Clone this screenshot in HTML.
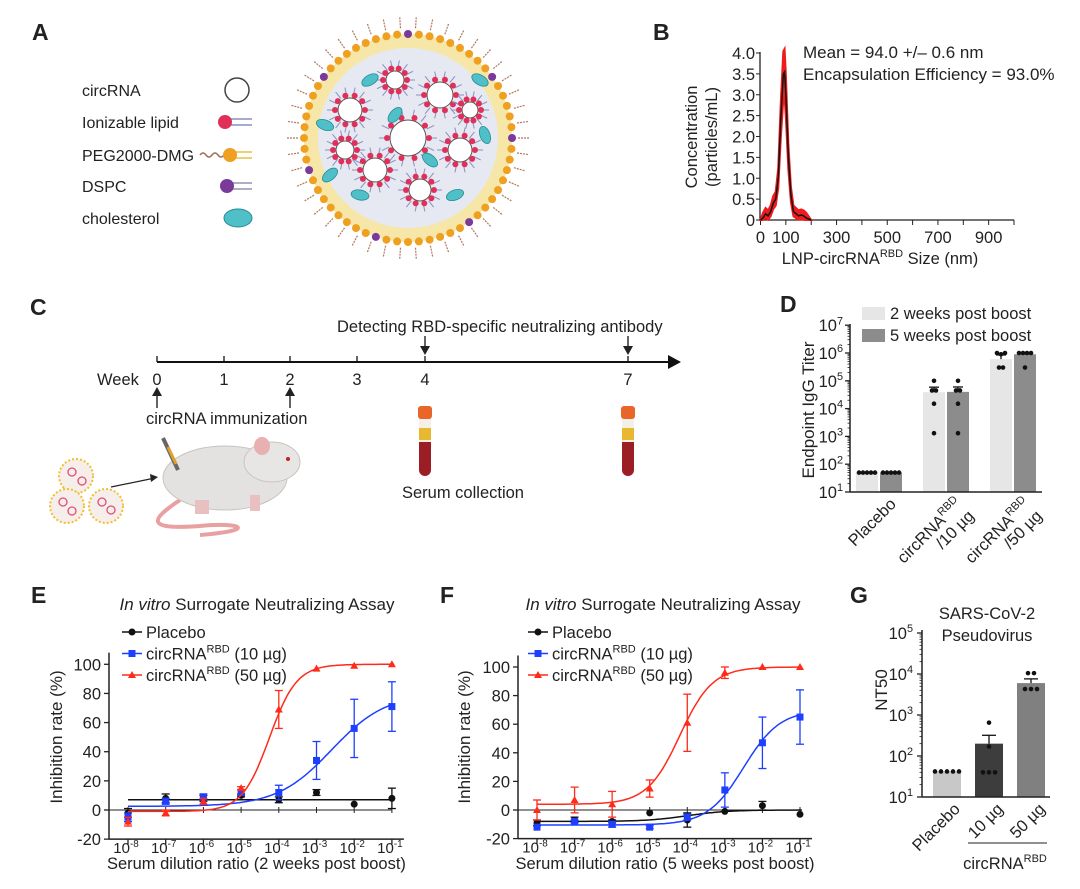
<!DOCTYPE html>
<html><head><meta charset="utf-8"><style>
html,body{margin:0;padding:0;background:#fff;}
svg{display:block;font-family:"Liberation Sans",Arial,sans-serif;}
</style></head><body>
<svg id="fig" width="1080" height="889" viewBox="0 0 1080 889" xmlns="http://www.w3.org/2000/svg">
<rect width="1080" height="889" fill="#fff"/>
<g font-weight="bold" font-size="23" fill="#222">
<text x="32" y="40">A</text>
<text x="653" y="40">B</text>
<text x="30" y="315">C</text>
<text x="780" y="312">D</text>
<text x="31" y="603">E</text>
<text x="440" y="603">F</text>
<text x="850" y="603">G</text>
</g>
<g font-size="16" fill="#222">
<text x="82" y="96">circRNA</text>
<text x="82" y="128">Ionizable lipid</text>
<text x="82" y="161">PEG2000-DMG</text>
<text x="82" y="192">DSPC</text>
<text x="82" y="224">cholesterol</text>
<circle cx="237" cy="90" r="12" fill="#fff" stroke="#444" stroke-width="1.5"/>
<g><line x1="230" y1="119" x2="252" y2="119" stroke="#8890c0" stroke-width="1.5"/><line x1="230" y1="125" x2="252" y2="125" stroke="#8890c0" stroke-width="1.5"/><circle cx="225" cy="122" r="7" fill="#e0305a"/></g>
<g><path d="M200 155 q3 -4 6 0 t6 0 t6 0 t6 0" fill="none" stroke="#a0705a" stroke-width="1.5"/><line x1="234" y1="152" x2="252" y2="152" stroke="#e8c040" stroke-width="1.5"/><line x1="234" y1="158" x2="252" y2="158" stroke="#e8c040" stroke-width="1.5"/><circle cx="230" cy="155" r="7" fill="#f0a020"/></g>
<g><line x1="232" y1="183" x2="252" y2="183" stroke="#9a90b0" stroke-width="1.5"/><line x1="232" y1="189" x2="252" y2="189" stroke="#9a90b0" stroke-width="1.5"/><circle cx="227" cy="186" r="7" fill="#7a3a9a"/></g>
<ellipse cx="238" cy="218" rx="14" ry="9" fill="#4fc0c8" stroke="#2a8a94" stroke-width="1"/>
</g>
<g id="lnp"></g>
<g id="panelB"></g>
<g fill="#222" font-size="16.5">
<line x1="157" y1="362" x2="672" y2="362" stroke="#111" stroke-width="2"/>
<polygon points="668,355 681,362 668,369" fill="#111"/>
<text x="97" y="385">Week</text>
<g text-anchor="middle">
<text x="157" y="385">0</text><text x="224" y="385">1</text><text x="290" y="385">2</text><text x="357" y="385">3</text><text x="425" y="385">4</text><text x="628" y="385">7</text>
</g>
<g stroke="#111" stroke-width="1.3">
<line x1="157" y1="362" x2="157" y2="356"/><line x1="224" y1="362" x2="224" y2="356"/><line x1="290" y1="362" x2="290" y2="356"/><line x1="357" y1="362" x2="357" y2="356"/><line x1="425" y1="362" x2="425" y2="356"/><line x1="628" y1="362" x2="628" y2="356"/>
<line x1="157" y1="408" x2="157" y2="392"/><line x1="290" y1="408" x2="290" y2="392"/>
<line x1="425" y1="336" x2="425" y2="350"/><line x1="628" y1="336" x2="628" y2="350"/>
</g>
<polygon points="152,396 157,387 162,396"/><polygon points="285,396 290,387 295,396"/>
<polygon points="420,346 425,355 430,346"/><polygon points="623,346 628,355 633,346"/>
<text x="337" y="332">Detecting RBD-specific neutralizing antibody</text>
<text x="146" y="424">circRNA immunization</text>
<text x="402" y="498">Serum collection</text>
</g>
<g>
<rect x="419" y="418" width="12" height="58" rx="6" fill="#9a1e24"/><rect x="419" y="418" width="12" height="24" fill="#f4f0e8"/><rect x="419" y="428" width="12" height="12" fill="#e8b830"/><rect x="418" y="406" width="14" height="13" rx="3" fill="#e8662a"/>
</g>
<g>
<rect x="622" y="418" width="12" height="58" rx="6" fill="#9a1e24"/><rect x="622" y="418" width="12" height="24" fill="#f4f0e8"/><rect x="622" y="428" width="12" height="12" fill="#e8b830"/><rect x="621" y="406" width="14" height="13" rx="3" fill="#e8662a"/>
</g>
<g>
<path d="M180 500 C150 520 145 530 200 526 C240 522 260 530 200 535" fill="none" stroke="#e8a0a0" stroke-width="4"/>
<ellipse cx="225" cy="478" rx="62" ry="32" fill="#e4e2e0" stroke="#c8c4c0"/>
<ellipse cx="272" cy="462" rx="28" ry="20" fill="#e8e6e4" stroke="#c8c4c0"/>
<ellipse cx="262" cy="446" rx="8" ry="9" fill="#e8b0b0"/>
<circle cx="288" cy="459" r="2" fill="#c02020"/>
<rect x="195" y="500" width="14" height="14" fill="#e8c0c0"/><rect x="250" y="495" width="10" height="16" fill="#e8c0c0"/>
<line x1="163" y1="438" x2="178" y2="470" stroke="#666" stroke-width="4"/><line x1="168" y1="447" x2="176" y2="464" stroke="#e0a030" stroke-width="3"/>
<line x1="111" y1="487" x2="155" y2="478" stroke="#222" stroke-width="1.2"/><polygon points="150,474 158,477 151,482" fill="#222"/>
</g>
<g>
<circle cx="76" cy="476" r="17" fill="#f6eeea" stroke="#f0c030" stroke-width="2" stroke-dasharray="2 2"/>
<circle cx="67" cy="506" r="17" fill="#f6eeea" stroke="#f0c030" stroke-width="2" stroke-dasharray="2 2"/>
<circle cx="106" cy="506" r="17" fill="#f6eeea" stroke="#f0c030" stroke-width="2" stroke-dasharray="2 2"/>
<g fill="none" stroke="#e05070" stroke-width="1.3"><circle cx="72" cy="472" r="4"/><circle cx="82" cy="481" r="4"/><circle cx="63" cy="502" r="4"/><circle cx="72" cy="511" r="4"/><circle cx="102" cy="502" r="4"/><circle cx="111" cy="510" r="4"/></g>
</g>
<g id="panelD"></g>
<g id="panelE"></g>
<g id="panelF"></g>
<g id="panelG"></g>
</svg>
<script>
// ---------- DATA ----------
const bSize = [0,10,20,30,40,50,60,70,80,90,95,100,110,120,130,150,160,170,180,200];
const bConc = [0,0.05,0.15,0.1,0.2,0.4,0.5,1.0,2.4,3.5,3.55,3.0,1.5,0.6,0.2,0.1,0.12,0.1,0.05,0];
const bXTicks = [0,100,300,500,700,900];
const bYTicks = [0,0.5,1.0,1.5,2.0,2.5,3.0,3.5,4.0];
const dGroups = ["Placebo","circRNA/10","circRNA/50"];
const d2wk = [50,39000,600000];
const d5wk = [50,40000,900000];
const d2wkErr = [0,20000,250000];
const d5wkErr = [0,20000,60000];
const d2wkPts = [[50,50,50,50,50],[100000,45000,45000,15000,1300],[1000000,900000,1000000,300000,300000]];
const d5wkPts = [[50,50,50,50,50],[100000,45000,45000,15000,1300],[1000000,1000000,1000000,1000000,300000]];
const dYExp = [1,2,3,4,5,6,7];
const dilutionExp = [-8,-7,-6,-5,-4,-3,-2,-1];
const ePlacebo = [-2,8,8,10,7,12,4,8];
const ePlaceboErr = [3,3,2,1,2,2,0,7];
const e10 = [-5,6,9,12,12,34,56,71];
const e10Err = [3,2,2,2,5,13,20,17];
const e50 = [-8,-2,6,15,69,97,99,100];
const e50Err = [3,2,2,1,13,0,0,0];
const eFitPlacebo = [7,7,-4,1];
const eFit10 = [2.5,80,-2.6,0.6];
const eFit50 = [-1,100,-4.25,1.2];
const fPlacebo = [-9,-7,-8,-2,-7,-1,3,-3];
const fPlaceboErr = [2,2,1,0,5,0,3,0];
const f10 = [-12,-8,-10,-12,-5,14,47,65];
const f10Err = [0,1,2,1,2,12,18,19];
const f50 = [0,7,4,15,61,96,100,100];
const f50Err = [7,9,9,6,20,4,0,0];
const fFitPlacebo = [-8,0,-4,0.8];
const fFit10 = [-10.5,70,-2.5,0.9];
const fFit50 = [4,100,-4.2,1.0];
const yTicksInh = [-20,0,20,40,60,80,100];
const gGroups = ["Placebo","10 µg","50 µg"];
const gMeans = [42,200,6000];
const gErr = [0,120,1600];
const gPts = [[42,42,42,42,42],[650,170,40,40,40],[10500,10500,4300,4300,4300]];
const gYExp = [1,2,3,4,5];

const FS = 16.5, FT = 17, FX = 15;
// ---------- HELPERS ----------
const NS = 'http://www.w3.org/2000/svg';
function mk(parent, tag, attrs, name, txt) {
  const el = document.createElementNS(NS, tag);
  for (const k in attrs) el.setAttribute(k, attrs[k]);
  
  
  if (txt !== undefined) el.textContent = txt;
  parent.appendChild(el);
  return el;
}
function powLabel(parent, x, y, base, exp, size, anchor, name) {
  const t = mk(parent, 'text', {x: x, y: y, 'font-size': size, 'text-anchor': anchor || 'middle', fill: '#222'}, name);
  const a = document.createElementNS(NS, 'tspan'); a.textContent = base; t.appendChild(a);
  const b = document.createElementNS(NS, 'tspan'); b.setAttribute('dy', -size * 0.42); b.setAttribute('font-size', size * 0.66); b.textContent = exp; t.appendChild(b);
  return t;
}
function fourPL(p, x) { return p[0] + (p[1] - p[0]) / (1 + Math.pow(10, (p[2] - x) * p[3])); }
const SUP = '<tspan font-size="11" dy="-7">RBD</tspan><tspan dy="7">';

// ---------- LNP ----------
(function(){
  const g = document.getElementById('lnp');
  const cx = 408, cy = 138;
  for (let i = 0; i < 46; i++) {
    const a = i / 46 * Math.PI * 2;
    mk(g, 'line', {x1: cx + Math.cos(a) * 110, y1: cy + Math.sin(a) * 110, x2: cx + Math.cos(a) * 122, y2: cy + Math.sin(a) * 122, stroke: '#b07860', 'stroke-width': 1.2, 'stroke-dasharray': '2 1'}, 'peg-tail');
  }
  mk(g, 'circle', {cx: cx, cy: cy, r: 104, fill: '#f6e7a8'}, 'lnp-shell');
  mk(g, 'circle', {cx: cx, cy: cy, r: 90, fill: '#e6e8f2'}, 'lnp-core');
  for (let i = 0; i < 60; i++) {
    const a = i / 60 * Math.PI * 2;
    mk(g, 'circle', {cx: cx + Math.cos(a) * 104, cy: cy + Math.sin(a) * 104, r: 4, fill: i % 9 === 0 ? '#7a3a9a' : '#f0a020'}, 'lipid-head');
  }
  const inner = [[408,138,18],[350,110,12],[440,95,13],[460,150,12],[375,170,12],[420,190,11],[345,150,9],[395,80,9],[470,110,8]];
  inner.forEach(function(c){
    for (let i = 0; i < 14; i++) {
      const a = i / 14 * Math.PI * 2;
      mk(g, 'line', {x1: c[0] + Math.cos(a) * (c[2] + 3), y1: c[1] + Math.sin(a) * (c[2] + 3), x2: c[0] + Math.cos(a) * (c[2] + 11), y2: c[1] + Math.sin(a) * (c[2] + 11), stroke: '#8890c0', 'stroke-width': 1}, 'lipid-tail');
    }
    mk(g, 'circle', {cx: c[0], cy: c[1], r: c[2], fill: '#fff', stroke: '#555', 'stroke-width': 1}, 'inner-circrna');
    for (let i = 0; i < 10; i++) {
      const a = i / 10 * Math.PI * 2;
      mk(g, 'circle', {cx: c[0] + Math.cos(a) * (c[2] + 3), cy: c[1] + Math.sin(a) * (c[2] + 3), r: 3, fill: '#e0305a'}, 'ionizable-head');
    }
  });
  [[370,80,-30],[325,125,20],[430,160,40],[395,115,-50],[485,135,70],[360,195,10],[455,195,-20],[480,80,30],[330,175,-40]].forEach(function(e){
    mk(g, 'ellipse', {cx: e[0], cy: e[1], rx: 9, ry: 5, fill: '#4fc0c8', stroke: '#2a8a94', 'stroke-width': .8, transform: 'rotate(' + e[2] + ' ' + e[0] + ' ' + e[1] + ')'}, 'cholesterol');
  });
})();

// ---------- Panel B ----------
(function(){
  const g = document.getElementById('panelB');
  const sx = v => 760.5 + v * 0.2535, sy = c => 220 - c * 41.75;
  mk(g, 'line', {x1: 760, y1: 52, x2: 760, y2: 220, stroke: '#222', 'stroke-width': 1.3}, 'b-y-axis');
  mk(g, 'line', {x1: 760, y1: 220, x2: 1014, y2: 220, stroke: '#222', 'stroke-width': 1.3}, 'b-x-axis');
  bYTicks.forEach(function(t){
    mk(g, 'line', {x1: 756, y1: sy(t), x2: 760, y2: sy(t), stroke: '#222'}, 'b-y-tick');
    mk(g, 'text', {x: 755, y: sy(t) + 6, 'font-size': FS, 'text-anchor': 'end', fill: '#222'}, 'b-y-tick-label', t === 0 ? '0' : t.toFixed(1));
  });
  for (let v = 0; v <= 1000; v += 100) mk(g, 'line', {x1: sx(v), y1: 220, x2: sx(v), y2: 225, stroke: '#222'}, 'b-x-tick');
  bXTicks.forEach(function(t){
    mk(g, 'text', {x: sx(t), y: 243, 'font-size': FS, 'text-anchor': 'middle', fill: '#222'}, 'b-x-tick-label', String(t));
  });
  let up = '', dn = '', mid = '';
  bSize.forEach(function(s, i){
    mid += (i ? 'L' : 'M') + sx(s) + ' ' + sy(bConc[i]);
    up += (i ? 'L' : 'M') + sx(s) + ' ' + sy(bConc[i] * 1.12 + (bConc[i] > 0 ? 0.12 : 0));
  });
  for (let i = bSize.length - 1; i >= 0; i--) dn += 'L' + sx(bSize[i]) + ' ' + sy(Math.max(0, bConc[i] * 0.85 - 0.08));
  mk(g, 'path', {d: up + dn + 'Z', fill: '#ee1c1c', stroke: '#ee1c1c', 'stroke-width': 2}, 'b-error-band');
  mk(g, 'path', {d: mid, fill: 'none', stroke: '#111', 'stroke-width': 1.5}, 'b-mean-line');
  mk(g, 'text', {x: 803, y: 58, 'font-size': FT, fill: '#222'}, 'b-mean-annotation', 'Mean = 94.0 +/\u2013 0.6 nm');
  mk(g, 'text', {x: 803, y: 80, 'font-size': FT, fill: '#222'}, 'b-ee-annotation', 'Encapsulation Efficiency = 93.0%');
  mk(g, 'text', {x: 880, y: 264, 'font-size': FS, 'text-anchor': 'middle', fill: '#222'}, 'b-x-axis-title').innerHTML = 'LNP-circRNA' + SUP + ' Size (nm)</tspan>';
  mk(g, 'text', {x: 0, y: 0, 'font-size': FS, 'text-anchor': 'middle', fill: '#222', transform: 'translate(697,137) rotate(-90)'}, 'b-y-axis-title-1', 'Concentration');
  mk(g, 'text', {x: 0, y: 0, 'font-size': FS, 'text-anchor': 'middle', fill: '#222', transform: 'translate(717,137) rotate(-90)'}, 'b-y-axis-title-2', '(particles/mL)');
})();

function dotRow(g, cx, vals, sy, w, name) {
  vals.forEach(function(v, i){
    const close = x => Math.abs(Math.log10(x) - Math.log10(v)) < 0.08;
    const k = vals.filter(close).length;
    const idx = vals.slice(0, i).filter(close).length;
    mk(g, 'circle', {cx: cx + (idx - (k - 1) / 2) * w, cy: sy(v), r: 2.3, fill: '#111'}, name);
  });
}

// ---------- Panel D ----------
(function(){
  const g = document.getElementById('panelD');
  const sy = v => 492 - (Math.log10(v) - 1) * 27.8;
  const centers = [879, 946, 1013];
  mk(g, 'rect', {x: 862, y: 307, width: 23, height: 13, fill: '#e6e6e6'}, 'd-legend-2wk-swatch');
  mk(g, 'text', {x: 890, y: 319, 'font-size': FS, fill: '#222'}, 'd-legend-2wk-label', '2 weeks post boost');
  mk(g, 'rect', {x: 862, y: 329, width: 23, height: 13, fill: '#8c8c8c'}, 'd-legend-5wk-swatch');
  mk(g, 'text', {x: 890, y: 341, 'font-size': FS, fill: '#222'}, 'd-legend-5wk-label', '5 weeks post boost');
  dGroups.forEach(function(name, i){
    const c = centers[i];
    [[d2wk, d2wkErr, d2wkPts, -12, '#e6e6e6'], [d5wk, d5wkErr, d5wkPts, 12, '#8c8c8c']].forEach(function(s){
      const x = c + s[3];
      mk(g, 'rect', {x: x - 11, y: sy(s[0][i]), width: 22, height: 492 - sy(s[0][i]), fill: s[4]}, 'd-bar');
      if (s[1][i] > 0) {
        mk(g, 'line', {x1: x, y1: sy(s[0][i]), x2: x, y2: sy(s[0][i] + s[1][i]), stroke: '#111', 'stroke-width': 1.3}, 'd-error-bar');
        mk(g, 'line', {x1: x - 5, y1: sy(s[0][i] + s[1][i]), x2: x + 5, y2: sy(s[0][i] + s[1][i]), stroke: '#111', 'stroke-width': 1.3}, 'd-error-cap');
      }
      dotRow(g, x, s[2][i], sy, 4, 'd-data-point');
    });
  });
  mk(g, 'line', {x1: 850, y1: 324, x2: 850, y2: 492, stroke: '#222', 'stroke-width': 1.5}, 'd-y-axis');
  mk(g, 'line', {x1: 850, y1: 492, x2: 1042, y2: 492, stroke: '#222', 'stroke-width': 1.5}, 'd-x-axis');
  dYExp.forEach(function(e){
    mk(g, 'line', {x1: 845, y1: sy(Math.pow(10, e)), x2: 850, y2: sy(Math.pow(10, e)), stroke: '#222', 'stroke-width': 1.3}, 'd-y-tick');
    powLabel(g, 843, sy(Math.pow(10, e)) + 6, '10', String(e), FS, 'end', 'd-y-tick-label');
    if (e < 7) for (let m = 2; m < 10; m++) mk(g, 'line', {x1: 847.5, y1: sy(m * Math.pow(10, e)), x2: 850, y2: sy(m * Math.pow(10, e)), stroke: '#222', 'stroke-width': .8}, 'd-y-minor-tick');
  });
  mk(g, 'text', {x: 0, y: 0, 'font-size': FT, 'text-anchor': 'middle', fill: '#222', transform: 'translate(814,410) rotate(-90)'}, 'd-y-axis-title', 'Endpoint IgG Titer');
  mk(g, 'text', {x: 0, y: 0, 'font-size': FS, 'text-anchor': 'end', fill: '#222', transform: 'translate(897,505) rotate(-45)'}, 'd-x-label-placebo', 'Placebo');
  [['/10 µg', 963], ['/50 µg', 1031]].forEach(function(p){
    mk(g, 'text', {x: 0, y: 0, 'font-size': FS, 'text-anchor': 'end', fill: '#222', transform: 'translate(' + p[1] + ',505) rotate(-45)'}, 'd-x-label-circrna').innerHTML = 'circRNA' + SUP + '</tspan>';
    mk(g, 'text', {x: 0, y: 17, 'font-size': FS, 'text-anchor': 'end', fill: '#222', transform: 'translate(' + p[1] + ',505) rotate(-45)'}, 'd-x-label-dose', p[0]);
  });
})();

// ---------- Panels E/F ----------
function drawDR(gid, cfg, pl, plE, a10, a10E, a50, a50E, fitPl, fit10, fit50, period) {
  const g = document.getElementById(gid);
  const sx = x => cfg.x0 + (x + 8) * cfg.dx;
  const sy = v => cfg.y0 - v * cfg.dy;
  const bottom = sy(-20);
  mk(g, 'text', {x: cfg.tx, y: 610, 'font-size': FT, 'text-anchor': 'middle', fill: '#222'}, 'title').innerHTML = '<tspan font-style="italic">In vitro</tspan> Surrogate Neutralizing Assay';
  mk(g, 'line', {x1: cfg.ax, y1: sy(108), x2: cfg.ax, y2: bottom, stroke: '#222', 'stroke-width': 1.5}, 'y-axis');
  mk(g, 'line', {x1: cfg.ax, y1: bottom, x2: sx(-1) + 12, y2: bottom, stroke: '#222', 'stroke-width': 1.5}, 'x-axis');
  mk(g, 'line', {x1: cfg.ax, y1: sy(0), x2: sx(-1), y2: sy(0), stroke: '#222', 'stroke-width': 1}, 'zero-line');
  yTicksInh.forEach(function(t){
    mk(g, 'line', {x1: cfg.ax - 5, y1: sy(t), x2: cfg.ax, y2: sy(t), stroke: '#222', 'stroke-width': 1.3}, 'y-tick');
    mk(g, 'text', {x: cfg.ax - 8, y: sy(t) + 6, 'font-size': FS, 'text-anchor': 'end', fill: '#222'}, 'y-tick-label', String(t));
  });
  dilutionExp.forEach(function(e){
    mk(g, 'line', {x1: sx(e), y1: bottom, x2: sx(e), y2: bottom + 5, stroke: '#222', 'stroke-width': 1.3}, 'x-tick');
    mk(g, 'line', {x1: sx(e), y1: sy(0) - 3, x2: sx(e), y2: sy(0) + 3, stroke: '#222', 'stroke-width': 1}, 'zero-line-tick');
    powLabel(g, sx(e) - 2, bottom + 14, '10', String(e), FX, 'middle', 'x-tick-label');
  });
  mk(g, 'text', {x: (cfg.ax + sx(-1)) / 2 + 6, y: 869, 'font-size': FS, 'text-anchor': 'middle', fill: '#222'}, 'x-axis-title', 'Serum dilution ratio (' + period + ' post boost)');
  mk(g, 'text', {x: 0, y: 0, 'font-size': FT, 'text-anchor': 'middle', fill: '#222', transform: 'translate(' + cfg.ylx + ',737) rotate(-90)'}, 'y-axis-title', 'Inhibition rate (%)');
  const series = [[pl, plE, fitPl, '#111', 'circle', 'placebo'], [a10, a10E, fit10, '#1f3fff', 'square', '10ug'], [a50, a50E, fit50, '#ff2a1a', 'tri', '50ug']];
  function marker(x, y, s, col, name) {
    if (s === 'circle') mk(g, 'circle', {cx: x, cy: y, r: 3.5, fill: col}, name);
    else if (s === 'square') mk(g, 'rect', {x: x - 3.5, y: y - 3.5, width: 7, height: 7, fill: col}, name);
    else mk(g, 'polygon', {points: x + ',' + (y - 4) + ' ' + (x + 4) + ',' + (y + 3) + ' ' + (x - 4) + ',' + (y + 3), fill: col}, name);
  }
  series.forEach(function(s){
    let d = '';
    for (let x = -8; x <= -0.95; x += 0.05) d += (d ? 'L' : 'M') + sx(x).toFixed(1) + ' ' + sy(fourPL(s[2], x)).toFixed(1);
    mk(g, 'path', {d: d, fill: 'none', stroke: s[3], 'stroke-width': 1.5}, s[5] + '-fit-curve');
    dilutionExp.forEach(function(e, i){
      const v = s[0][i], er = s[1][i];
      if (er > 0) {
        mk(g, 'line', {x1: sx(e), y1: sy(v - er), x2: sx(e), y2: sy(v + er), stroke: s[3], 'stroke-width': 1.3}, s[5] + '-error-bar');
        mk(g, 'line', {x1: sx(e) - 4, y1: sy(v + er), x2: sx(e) + 4, y2: sy(v + er), stroke: s[3], 'stroke-width': 1.3}, s[5] + '-error-cap');
        mk(g, 'line', {x1: sx(e) - 4, y1: sy(v - er), x2: sx(e) + 4, y2: sy(v - er), stroke: s[3], 'stroke-width': 1.3}, s[5] + '-error-cap');
      }
      marker(sx(e), sy(v), s[4], s[3], s[5] + '-point');
    });
  });
  const labels = ['Placebo', 'circRNA' + SUP + ' (10 µg)</tspan>', 'circRNA' + SUP + ' (50 µg)</tspan>'];
  series.forEach(function(s, i){
    const y = 632 + i * 21.5;
    mk(g, 'line', {x1: cfg.lx, y1: y, x2: cfg.lx + 20, y2: y, stroke: s[3], 'stroke-width': 1.5}, 'legend-line-' + s[5]);
    marker(cfg.lx + 10, y, s[4], s[3], 'legend-marker-' + s[5]);
    mk(g, 'text', {x: cfg.lx + 24, y: y + 6, 'font-size': FS, fill: '#222'}, 'legend-label-' + s[5]).innerHTML = labels[i];
  });
}
drawDR('panelE', {x0: 128, dx: 37.7, y0: 810, dy: 1.457, ax: 109, tx: 257, lx: 122, ylx: 62}, ePlacebo, ePlaceboErr, e10, e10Err, e50, e50Err, eFitPlacebo, eFit10, eFit50, '2 weeks');
drawDR('panelF', {x0: 537, dx: 37.57, y0: 810, dy: 1.43, ax: 518, tx: 663, lx: 528, ylx: 470}, fPlacebo, fPlaceboErr, f10, f10Err, f50, f50Err, fFitPlacebo, fFit10, fFit50, '5 weeks');

// ---------- Panel G ----------
(function(){
  const g = document.getElementById('panelG');
  const sy = v => 797 - (Math.log10(v) - 1) * 41;
  const centers = [947, 989, 1031];
  const cols = ['#c8c8c8', '#3d3d3d', '#808080'];
  mk(g, 'text', {x: 987, y: 619, 'font-size': FS, 'text-anchor': 'middle', fill: '#222'}, 'g-title-1', 'SARS-CoV-2');
  mk(g, 'text', {x: 987, y: 641, 'font-size': FS, 'text-anchor': 'middle', fill: '#222'}, 'g-title-2', 'Pseudovirus');
  gGroups.forEach(function(name, i){
    const c = centers[i];
    mk(g, 'rect', {x: c - 14, y: sy(gMeans[i]), width: 28, height: 797 - sy(gMeans[i]), fill: cols[i]}, 'g-bar');
    if (gErr[i] > 0) {
      mk(g, 'line', {x1: c, y1: sy(gMeans[i]), x2: c, y2: sy(gMeans[i] + gErr[i]), stroke: '#111', 'stroke-width': 1.3}, 'g-error-bar');
      mk(g, 'line', {x1: c - 7, y1: sy(gMeans[i] + gErr[i]), x2: c + 7, y2: sy(gMeans[i] + gErr[i]), stroke: '#111', 'stroke-width': 1.3}, 'g-error-cap');
    }
    dotRow(g, c, gPts[i], sy, 6, 'g-data-point');
  });
  mk(g, 'line', {x1: 922, y1: 630, x2: 922, y2: 797, stroke: '#222', 'stroke-width': 1.5}, 'g-y-axis');
  mk(g, 'line', {x1: 922, y1: 797, x2: 1050, y2: 797, stroke: '#222', 'stroke-width': 1.5}, 'g-x-axis');
  gYExp.forEach(function(e){
    mk(g, 'line', {x1: 917, y1: sy(Math.pow(10, e)), x2: 922, y2: sy(Math.pow(10, e)), stroke: '#222', 'stroke-width': 1.3}, 'g-y-tick');
    powLabel(g, 913, sy(Math.pow(10, e)) + 6, '10', String(e), FS, 'end', 'g-y-tick-label');
    if (e < 5) for (let m = 2; m < 10; m++) mk(g, 'line', {x1: 919.5, y1: sy(m * Math.pow(10, e)), x2: 922, y2: sy(m * Math.pow(10, e)), stroke: '#222', 'stroke-width': .8}, 'g-y-minor-tick');
  });
  mk(g, 'text', {x: 0, y: 0, 'font-size': FT, 'text-anchor': 'middle', fill: '#222', transform: 'translate(887,690) rotate(-90)'}, 'g-y-axis-title', 'NT50');
  [[961, 'Placebo'], [1004, '10 µg'], [1046, '50 µg']].forEach(function(p){
    mk(g, 'text', {x: 0, y: 0, 'font-size': FS, 'text-anchor': 'end', fill: '#222', transform: 'translate(' + p[0] + ',810) rotate(-45)'}, 'g-x-label', p[1]);
  });
  mk(g, 'line', {x1: 968, y1: 843, x2: 1047, y2: 843, stroke: '#222', 'stroke-width': 1}, 'g-group-bracket');
  mk(g, 'text', {x: 1005, y: 869, 'font-size': FS, 'text-anchor': 'middle', fill: '#222'}, 'g-group-label').innerHTML = 'circRNA' + SUP + '</tspan>';
})();
</script>
</body></html>
